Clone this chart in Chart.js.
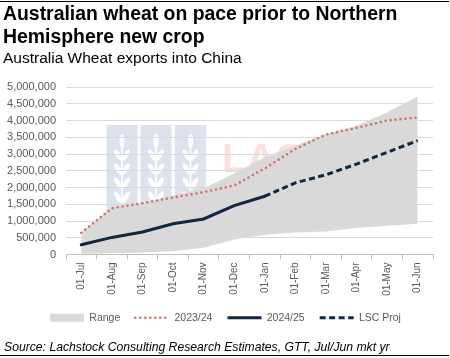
<!DOCTYPE html>
<html>
<head>
<meta charset="utf-8">
<script src="https://cdn.jsdelivr.net/npm/chart.js@4.4.0/dist/chart.umd.min.js"></script>
<style>
  body { margin: 0; background: #fff; font-family: "Liberation Sans", Arial, sans-serif; }
  #wrap { position: relative; width: 450px; height: 358px; overflow: hidden; }
  #wrap canvas { position: absolute; left: 0; top: 0; }
  .rule { position: absolute; left: 0; width: 449px; height: 0; border-top: 1.5px solid #000; }
  h1 { position: absolute; left: 3px; top: 2px; margin: 0; font-size: 19.4px; line-height: 22.5px; font-weight: bold; color: #000; }
  .sub { position: absolute; left: 3px; top: 50px; font-size: 15.5px; line-height: 15px; color: #000; }
  .src { position: absolute; left: 4px; top: 341px; font-size: 12.2px; line-height: 13px; font-style: italic; color: #000; }
</style>
</head>
<body>
<div id="wrap">
  <canvas id="myChart" width="450" height="358"></canvas>
  <div class="rule" style="top:1px"></div>
  <h1>Australian wheat on pace prior to Northern<br>Hemisphere new crop</h1>
  <div class="sub">Australia Wheat exports into China</div>
  <div class="src">Source: Lachstock Consulting Research Estimates, GTT, Jul/Jun mkt yr</div>
  <div class="rule" style="top:355px"></div>
</div>
<script>
// x axis categories
const months = ["01-Jul", "01-Aug", "01-Sep", "01-Oct", "01-Nov", "01-Dec",
  "01-Jan", "01-Feb", "01-Mar", "01-Apr", "01-May", "01-Jun"];

// historical range (tonnes)
const rangeLow = [20000, 40000, 60000, 100000, 200000, 450000, 590000, 660000, 690000, 790000, 860000, 920000];
const rangeHigh = [650000, 1400000, 1530000, 1760000, 1980000, 2420000, 2900000, 3250000, 3600000, 3840000, 4250000, 4720000];

// seasons
const season2324 = [650000, 1380000, 1530000, 1700000, 1860000, 2060000, 2570000, 3150000, 3580000, 3780000, 4000000, 4090000];
const season2425 = [290000, 510000, 670000, 920000, 1060000, 1460000, 1740000, null, null, null, null, null];
const lscProj = [null, null, null, null, null, null, 1740000, 2140000, 2380000, 2700000, 3050000, 3400000];

const yTicks = [0, 500000, 1000000, 1500000, 2000000, 2500000, 3000000, 3500000, 4000000, 4500000, 5000000];

const navy = "#0f2741";
const red = "#d66f6b";
const grey = "#d9d9d9";
const txt = "#595959";

// faint logo behind the plot
const watermark = {
  id: "watermark",
  beforeDraw(chart) {
    const c = chart.ctx;
    const a = chart.chartArea;
    c.save();
    c.beginPath();
    c.rect(a.left, a.top, a.right - a.left, a.bottom - a.top);
    c.clip();
    [106.5, 140.5, 175].forEach((x0) => {
      c.fillStyle = "#dde3ee";
      c.fillRect(x0, 125, 31, 120);
      const cx = x0 + 15.5;
      c.fillStyle = "#ffffff";
      c.beginPath();
      c.ellipse(cx, 141, 2.6, 7, 0, 0, Math.PI * 2);
      c.fill();
      [155, 169, 183, 197].forEach((y) => {
        c.beginPath();
        c.ellipse(cx - 4, y, 2.4, 6.5, -0.55, 0, Math.PI * 2);
        c.fill();
        c.beginPath();
        c.ellipse(cx + 4, y, 2.4, 6.5, 0.55, 0, Math.PI * 2);
        c.fill();
      });
      c.fillRect(cx - 0.8, 148, 1.6, 70);
    });
    c.fillStyle = "#fcdfdf";
    c.font = "bold 40px 'Liberation Sans', Arial, sans-serif";
    c.textBaseline = "alphabetic";
    c.fillText("LACHS", 222, 172);
    c.restore();
  },
};

// legend sits centred on the whole picture, not on the plot
const legendShift = {
  id: "legendShift",
  afterLayout(chart) {
    chart.legend.left += 9;
    chart.legend.right += 9;
  },
};

const ctx = document.getElementById("myChart");

new Chart(ctx, {
  type: "line",
  data: {
    labels: months,
    datasets: [
      {
        label: "low",
        data: rangeLow,
        borderWidth: 0,
        pointRadius: 0,
        fill: false,
      },
      {
        label: "Range",
        data: rangeHigh,
        borderWidth: 0,
        pointRadius: 0,
        backgroundColor: grey,
        fill: "-1",
      },
      {
        label: "2023/24",
        data: season2324,
        borderColor: red,
        borderWidth: 2.6,
        borderDash: [0, 5],
        borderCapStyle: "round",
        pointRadius: 0,
        fill: false,
      },
      {
        label: "2024/25",
        data: season2425,
        borderColor: navy,
        borderWidth: 3,
        borderCapStyle: "round",
        pointRadius: 0,
        fill: false,
      },
      {
        label: "LSC Proj",
        data: lscProj,
        borderColor: navy,
        borderWidth: 3,
        borderDash: [6, 3.5],
        pointRadius: 0,
        fill: false,
      },
    ],
  },
  options: {
    responsive: false,
    animation: false,
    layout: { padding: { top: 87, right: 17, bottom: 25, left: 0 } },
    scales: {
      x: {
        offset: true,
        grid: {
          offset: true,
          drawOnChartArea: false,
          tickLength: 5,
          color: "#bfbfbf",
        },
        border: { color: "#bfbfbf" },
        ticks: {
          autoSkip: false,
          maxRotation: 90,
          minRotation: 90,
          padding: 3,
          color: txt,
          font: { family: "'Liberation Sans', Arial, sans-serif", size: 10 },
        },
        afterFit: (scale) => { scale.height = 43; },
      },
      y: {
        min: 0,
        max: 5000000,
        afterBuildTicks: (scale) => { scale.ticks = yTicks.map((v) => ({ value: v })); },
        grid: { color: grey, drawTicks: false },
        border: { display: false },
        ticks: {
          padding: 10,
          color: txt,
          font: { family: "'Liberation Sans', Arial, sans-serif", size: 11 },
          callback: (v) => v.toLocaleString("en-US"),
        },
        afterFit: (scale) => { scale.width = 66; },
      },
    },
    plugins: {
      filler: { drawTime: "beforeDatasetsDraw" },
      legend: {
        position: "bottom",
        labels: {
          usePointStyle: true,
          pointStyleWidth: 34,
          boxHeight: 8,
          padding: 15,
          color: txt,
          font: { family: "'Liberation Sans', Arial, sans-serif", size: 10.5 },
          generateLabels: () => [
            { text: "Range", fillStyle: grey, strokeStyle: grey, lineWidth: 0, pointStyle: "rect", datasetIndex: 1, fontColor: txt },
            { text: "2023/24", fillStyle: red, strokeStyle: red, lineWidth: 2.6, lineDash: [0, 5], lineCap: "round", pointStyle: "line", datasetIndex: 2, fontColor: txt },
            { text: "2024/25", fillStyle: navy, strokeStyle: navy, lineWidth: 3, pointStyle: "line", datasetIndex: 3, fontColor: txt },
            { text: "LSC Proj", fillStyle: navy, strokeStyle: navy, lineWidth: 3, lineDash: [6, 3.5], pointStyle: "line", datasetIndex: 4, fontColor: txt },
          ],
        },
      },
      tooltip: { enabled: false },
    },
  },
  plugins: [watermark, legendShift],
});
</script>
</body>
</html>
